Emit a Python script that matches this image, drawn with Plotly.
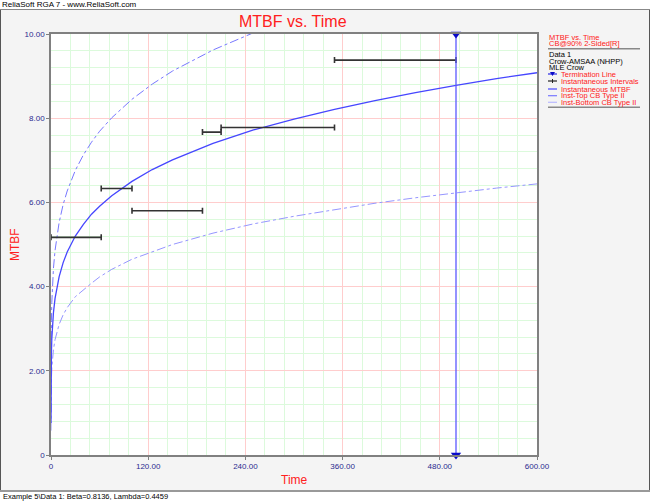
import plotly.graph_objects as go

# ---------------- data ----------------
time_pts = [0.001, 0.01, 0.1, 0.5, 1, 2, 3, 5, 7, 10, 15, 20, 30, 40, 50, 60, 75,
            100, 125, 150, 200, 250, 300, 350, 400, 450, 500, 550, 600]
inst_mtbf = [0.76, 1.17, 1.79, 2.42, 2.76, 3.14, 3.38, 3.72, 3.96, 4.23, 4.57, 4.82, 5.20,
             5.48, 5.72, 5.91, 6.16, 6.50, 6.78, 7.01, 7.40, 7.72, 7.98, 8.21, 8.42,
             8.61, 8.78, 8.94, 9.08]
upper_cb = [1.02, 1.56, 2.37, 3.19, 3.62, 4.11, 4.43, 4.86, 5.17, 5.52, 5.95, 6.27, 6.76,
            7.13, 7.43, 7.69, 8.01, 8.45, 8.81, 9.12, 9.62, 10.03, 10.37, 10.68, 10.95,
            11.19, 11.41, 11.62, 11.81]
lower_cb = [0.58, 0.88, 1.34, 1.81, 2.05, 2.33, 2.50, 2.74, 2.91, 3.10, 3.33, 3.50, 3.76,
            3.93, 4.08, 4.23, 4.41, 4.65, 4.83, 5.00, 5.27, 5.49, 5.67, 5.83, 5.98,
            6.11, 6.23, 6.34, 6.44]

interval_start = [0, 62, 100, 187, 210, 350]
interval_end = [62, 100, 187, 210, 350, 500]
interval_mtbf = [5.17, 6.33, 5.80, 7.67, 7.78, 9.38]

termination_time = 500

x_ticks = [0, 120, 240, 360, 480, 600]
x_ticktext = ["0", "120.00", "240.00", "360.00", "480.00", "600.00"]
y_ticks = [0, 2, 4, 6, 8, 10]
y_ticktext = ["0", "2.00", "4.00", "6.00", "8.00", "10.00"]

legend_header = ["MTBF vs. Time", "CB@90% 2-Sided[R]"]
legend_info = ["Data 1", "Crow-AMSAA (NHPP)", "MLE Crow"]
legend_items = ["Termination Line", "Instantaneous Intervals", "Instantaneous MTBF",
                "Inst-Top CB Type II", "Inst-Bottom CB Type II"]

# ---------------- geometry helpers ----------------
W, H = 650, 501
L, R, T, B = 51, 537, 34, 455
PW, PH = R - L, B - T


def px(x):
    return (x - L) / PW


def py(y):
    return (B - y) / PH


FONT = "Liberation Sans, Arial, sans-serif"
RED = "#ff2020"
TICKC = "#2b2b8f"
MAIN = "rgb(70,70,255)"
TOPC = "rgb(120,120,255)"
BOTC = "rgb(150,150,255)"
LEGF = 7.5

fig = go.Figure()

fig.add_trace(go.Scatter(x=time_pts, y=upper_cb, mode="lines",
                         line=dict(color=TOPC, width=1, dash="dashdot"), showlegend=False))
fig.add_trace(go.Scatter(x=time_pts, y=lower_cb, mode="lines",
                         line=dict(color=BOTC, width=1, dash="dashdot"), showlegend=False))
fig.add_trace(go.Scatter(x=time_pts, y=inst_mtbf, mode="lines",
                         line=dict(color=MAIN, width=1.3), showlegend=False))

mid = [(a + b) / 2 for a, b in zip(interval_start, interval_end)]
half = [(b - a) / 2 for a, b in zip(interval_start, interval_end)]
fig.add_trace(go.Scatter(x=mid, y=interval_mtbf, mode="markers",
                         marker=dict(size=1, color="rgba(0,0,0,0)"),
                         error_x=dict(type="data", array=half, symmetric=True,
                                      color="#333333", thickness=1.6, width=3),
                         showlegend=False))

fig.add_trace(go.Scatter(x=[termination_time, termination_time], y=[y_ticks[0], y_ticks[-1]],
                         mode="lines+markers",
                         line=dict(color="rgb(90,90,255)", width=1.3),
                         marker=dict(symbol="triangle-down", size=9, color="rgb(10,10,200)"),
                         cliponaxis=False, showlegend=False))

shapes = []
annotations = []

# header / footer / outer frame
shapes.append(dict(type="rect", xref="paper", yref="paper", x0=px(0), x1=px(W), y0=py(0), y1=py(9.5),
                   fillcolor="white", line=dict(width=0), layer="below"))
shapes.append(dict(type="line", xref="paper", yref="paper", x0=px(0), x1=px(W), y0=py(9.5), y1=py(9.5),
                   line=dict(color="#888888", width=1)))
shapes.append(dict(type="rect", xref="paper", yref="paper", x0=px(0), x1=px(W), y0=py(492), y1=py(H),
                   fillcolor="white", line=dict(width=0), layer="below"))
shapes.append(dict(type="line", xref="paper", yref="paper", x0=px(0), x1=px(W), y0=py(491), y1=py(491),
                   line=dict(color="#999999", width=2)))
shapes.append(dict(type="line", xref="paper", yref="paper", x0=px(0.5), x1=px(0.5), y0=py(10), y1=py(490),
                   line=dict(color="#555555", width=1)))
shapes.append(dict(type="line", xref="paper", yref="paper", x0=px(649.5), x1=px(649.5), y0=py(10), y1=py(490),
                   line=dict(color="#555555", width=1)))

annotations.append(dict(text="ReliaSoft RGA 7 - www.ReliaSoft.com", xref="paper", yref="paper",
                        x=px(1), y=py(4.5), xanchor="left", yanchor="middle", showarrow=False,
                        borderpad=0, font=dict(family=FONT, size=8, color="black")))
annotations.append(dict(text="Example 5\\Data 1: Beta=0.8136, Lambda=0.4459", xref="paper", yref="paper",
                        x=px(2), y=py(496.5), xanchor="left", yanchor="middle", showarrow=False,
                        borderpad=0, font=dict(family=FONT, size=7.5, color="black")))

# titles
annotations.append(dict(text="MTBF vs. Time", xref="paper", yref="paper", x=px(293), y=py(22),
                        xanchor="center", yanchor="middle", showarrow=False,
                        font=dict(family=FONT, size=16, color=RED)))
annotations.append(dict(text="Time", xref="paper", yref="paper", x=px(294), y=py(480),
                        xanchor="center", yanchor="middle", showarrow=False,
                        font=dict(family=FONT, size=12, color=RED)))
annotations.append(dict(text="MTBF", xref="paper", yref="paper", x=px(15), y=py(245),
                        xanchor="center", yanchor="middle", showarrow=False, textangle=-90,
                        font=dict(family=FONT, size=12, color=RED)))

# legend block
lx = 548
for txt, yy in zip(legend_header, [37, 44]):
    annotations.append(dict(text=txt, xref="paper", yref="paper", x=px(lx), y=py(yy),
                            xanchor="left", yanchor="middle", showarrow=False, borderpad=0,
                            font=dict(family=FONT, size=LEGF, color=RED)))
shapes.append(dict(type="line", xref="paper", yref="paper", x0=px(lx), x1=px(640), y0=py(48.7), y1=py(48.7),
                   line=dict(color="#888888", width=1.5)))
for txt, yy in zip(legend_info, [54.3, 61, 67.5]):
    annotations.append(dict(text=txt, xref="paper", yref="paper", x=px(lx), y=py(yy),
                            xanchor="left", yanchor="middle", showarrow=False, borderpad=0,
                            font=dict(family=FONT, size=LEGF, color="black")))
item_y = [74, 81, 89, 95.7, 102.3]
item_col = ["rgb(40,40,230)", "#222222", MAIN, TOPC, "rgb(185,185,255)"]
for txt, yy, col in zip(legend_items, item_y, item_col):
    annotations.append(dict(text=txt, xref="paper", yref="paper", x=px(560), y=py(yy),
                            xanchor="left", yanchor="middle", showarrow=False, borderpad=0,
                            font=dict(family=FONT, size=LEGF, color=RED)))
    shapes.append(dict(type="line", xref="paper", yref="paper", x0=px(548), x1=px(557), y0=py(yy), y1=py(yy),
                       line=dict(color=col, width=1.2)))
# small symbols on legend lines
shapes.append(dict(type="path", xref="paper", yref="paper",
                   path="M %f %f L %f %f L %f %f Z" % (px(550), py(72), px(555), py(72), px(552.5), py(76)),
                   fillcolor="rgb(10,10,200)", line=dict(width=0)))
shapes.append(dict(type="line", xref="paper", yref="paper", x0=px(552.5), x1=px(552.5), y0=py(79), y1=py(83),
                   line=dict(color="#222222", width=1)))
shapes.append(dict(type="line", xref="paper", yref="paper", x0=px(lx), x1=px(640), y0=py(107.3), y1=py(107.3),
                   line=dict(color="#888888", width=1.5)))

axis_common = dict(showline=True, linecolor="#808080", linewidth=1.5, mirror=True,
                   ticks="outside", ticklen=3, tickcolor="#808080",
                   tickfont=dict(family=FONT, size=8, color=TICKC),
                   gridcolor="rgb(255,205,205)", gridwidth=1, zeroline=False)

fig.update_layout(
    width=W, height=H,
    margin=dict(l=L, r=W - R, t=T, b=H - B, pad=0),
    paper_bgcolor="#f4f4f4",
    plot_bgcolor="white",
    showlegend=False,
    shapes=shapes,
    annotations=annotations,
    xaxis=dict(range=[x_ticks[0], x_ticks[-1]], tickvals=x_ticks, ticktext=x_ticktext,
               minor=dict(dtick=24, tick0=0, showgrid=True, gridcolor="rgb(220,250,220)", gridwidth=1),
               **axis_common),
    yaxis=dict(range=[y_ticks[0], y_ticks[-1]], tickvals=y_ticks, ticktext=y_ticktext,
               minor=dict(dtick=0.4, tick0=0, showgrid=True, gridcolor="rgb(220,250,220)", gridwidth=1),
               **axis_common),
)

fig.write_html("out.html", config={"displayModeBar": False},
               post_script="document.body.style.margin='0px';document.body.style.padding='0px';")
